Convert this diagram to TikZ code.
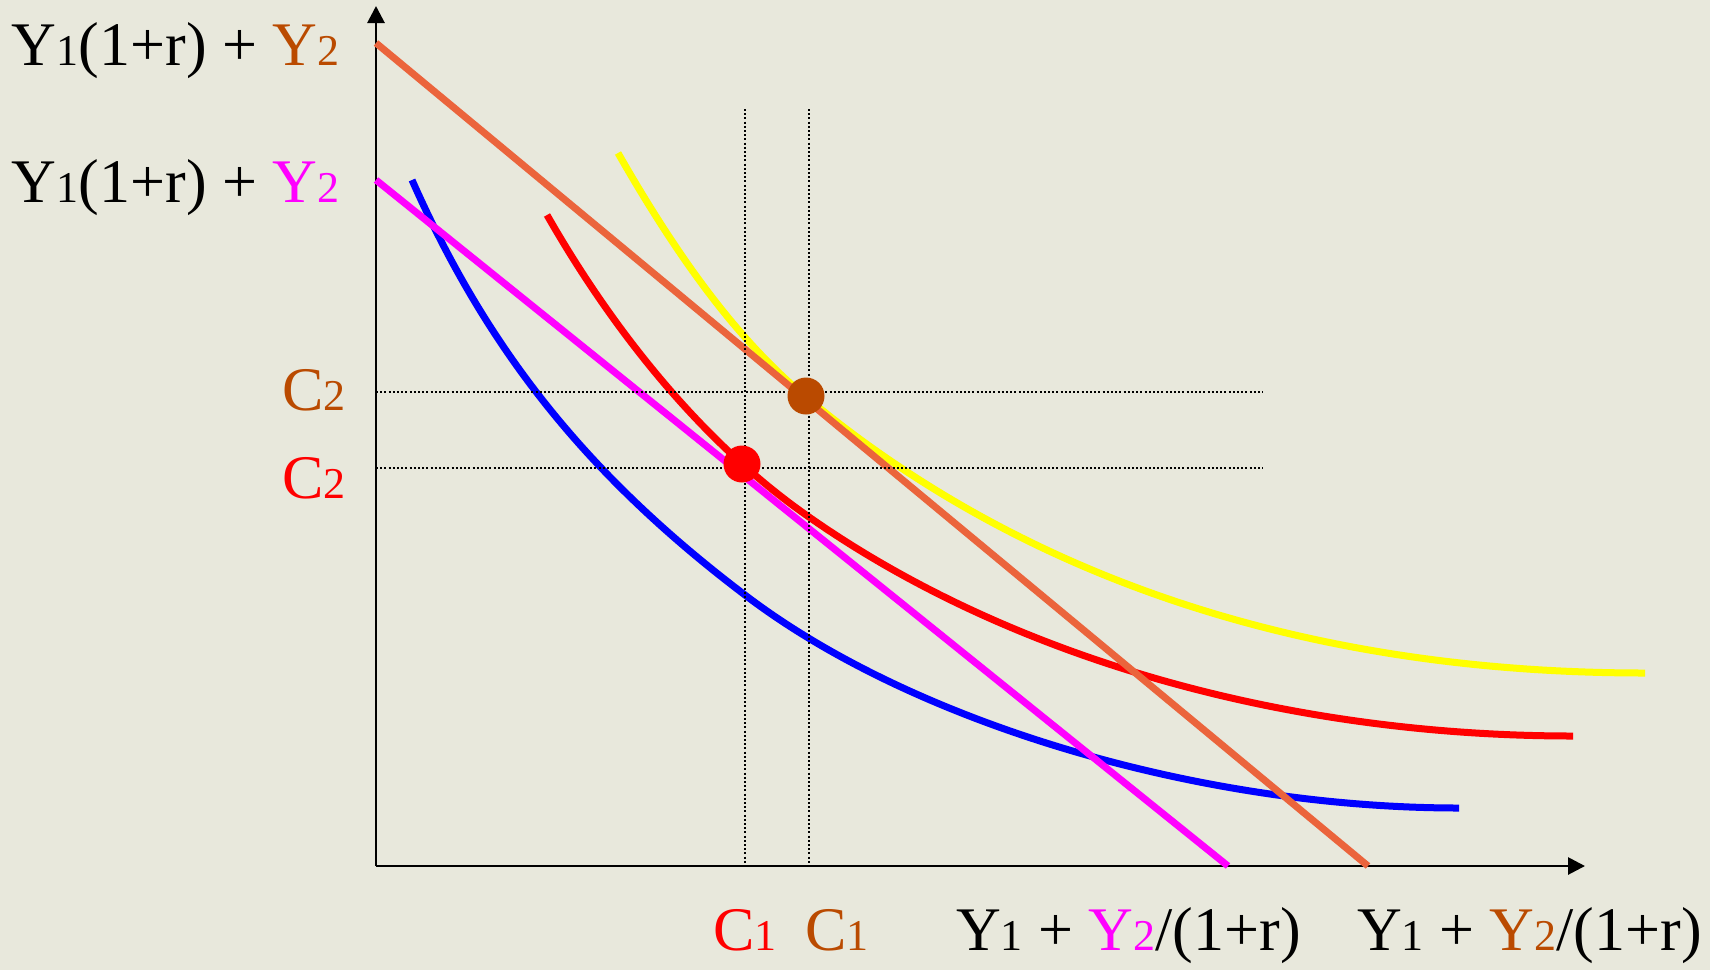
\documentclass[tikz,border=0pt]{standalone}
\usepackage{fontspec}
\setmainfont{Liberation Serif}
\usetikzlibrary{arrows.meta}
\definecolor{bg}{RGB}{232,232,220}
\definecolor{brownc}{RGB}{186,74,0}
\definecolor{orangel}{RGB}{235,100,60}
\definecolor{magc}{RGB}{255,0,255}
\definecolor{bluec}{RGB}{0,0,255}
\definecolor{redc}{RGB}{255,0,0}
\definecolor{yelc}{RGB}{255,255,0}
\newcommand\smn[1]{{\fontsize{44}{44}\selectfont #1}}
\tikzset{
  axisline/.style={line width=2.8pt, black, -{Triangle[length=17pt,width=17pt]}},
  dotline/.style={line width=1.8pt, black, dash pattern=on 2pt off 2.2pt},
  curve/.style={line width=7pt, line cap=butt},
  lbl/.style={inner sep=0pt, outer sep=0pt, anchor=base west, font=\fontsize{62}{62}\selectfont},
}
\begin{document}
\begin{tikzpicture}[x=1pt,y=-1pt]
\fill[bg] (0,0) rectangle (1710,970);
\useasboundingbox (0,0) rectangle (1710,970);

% coordinates
\coordinate (O) at (376,866);
\coordinate (ytop) at (376,6);
\coordinate (xend) at (1585,866);
\coordinate (oA) at (376,43);
\coordinate (oB) at (1368,866);
\coordinate (mA) at (376,180);
\coordinate (mB) at (1228,866);
\coordinate (hA1) at (376,392);
\coordinate (hB1) at (1263,392);
\coordinate (hA2) at (376,468);
\coordinate (hB2) at (1263,468);
\coordinate (vA1) at (745,109);
\coordinate (vB1) at (745,866);
\coordinate (vA2) at (809,109);
\coordinate (vB2) at (809,866);

% axes
\draw[axisline] (O) -- (ytop);
\draw[axisline] (O) -- (xend);

% indifference curves and budget lines
\draw[curve, bluec] (412,180) .. controls (488,351.5) and (588,476) .. (745,595)
   .. controls (913,723) and (1199,808) .. (1459,808);
\draw[curve, magc] (mA) -- (mB);
\draw[curve, redc] (547,215) .. controls (620.5,343.6) and (711.5,449.4) .. (809,517)
   .. controls (1009.3,657.2) and (1284.4,736) .. (1573,736);
\draw[curve, yelc] (618,153) .. controls (684,268.5) and (742.5,343.9) .. (806,397)
   .. controls (1045,596) and (1341,673) .. (1645,673);
\draw[curve, orangel] (oA) -- (oB);

% dotted guides
\draw[dotline] (hA1) -- (hB1);
\draw[dotline] (hA2) -- (hB2);
\draw[dotline] (vA1) -- (vB1);
\draw[dotline] (vA2) -- (vB2);

% optimum points
\node[circle, fill=brownc, minimum size=37pt, inner sep=0pt] (E2) at (806,396) {};
\node[circle, fill=redc, minimum size=37pt, inner sep=0pt] (E1) at (742,464) {};

% labels
\node[lbl] (ly1) at (12,65) {Y\smn{1}(1+r) + \textcolor{brownc}{Y\smn{2}}};
\node[lbl] (ly2) at (12,202) {Y\smn{1}(1+r) + \textcolor{magc}{Y\smn{2}}};
\node[lbl, text=brownc] (lc2b) at (282,410) {C\smn{2}};
\node[lbl, text=redc] (lc2r) at (282,498) {C\smn{2}};
\node[lbl, text=redc] (lc1r) at (713,950) {C\smn{1}};
\node[lbl, text=brownc] (lc1b) at (805,950) {C\smn{1}};
\node[lbl] (lx1) at (956,950) {Y\smn{1} + \textcolor{magc}{Y\smn{2}}/(1+r)};
\node[lbl] (lx2) at (1357,950) {Y\smn{1} + \textcolor{brownc}{Y\smn{2}}/(1+r)};
\end{tikzpicture}
\end{document}
